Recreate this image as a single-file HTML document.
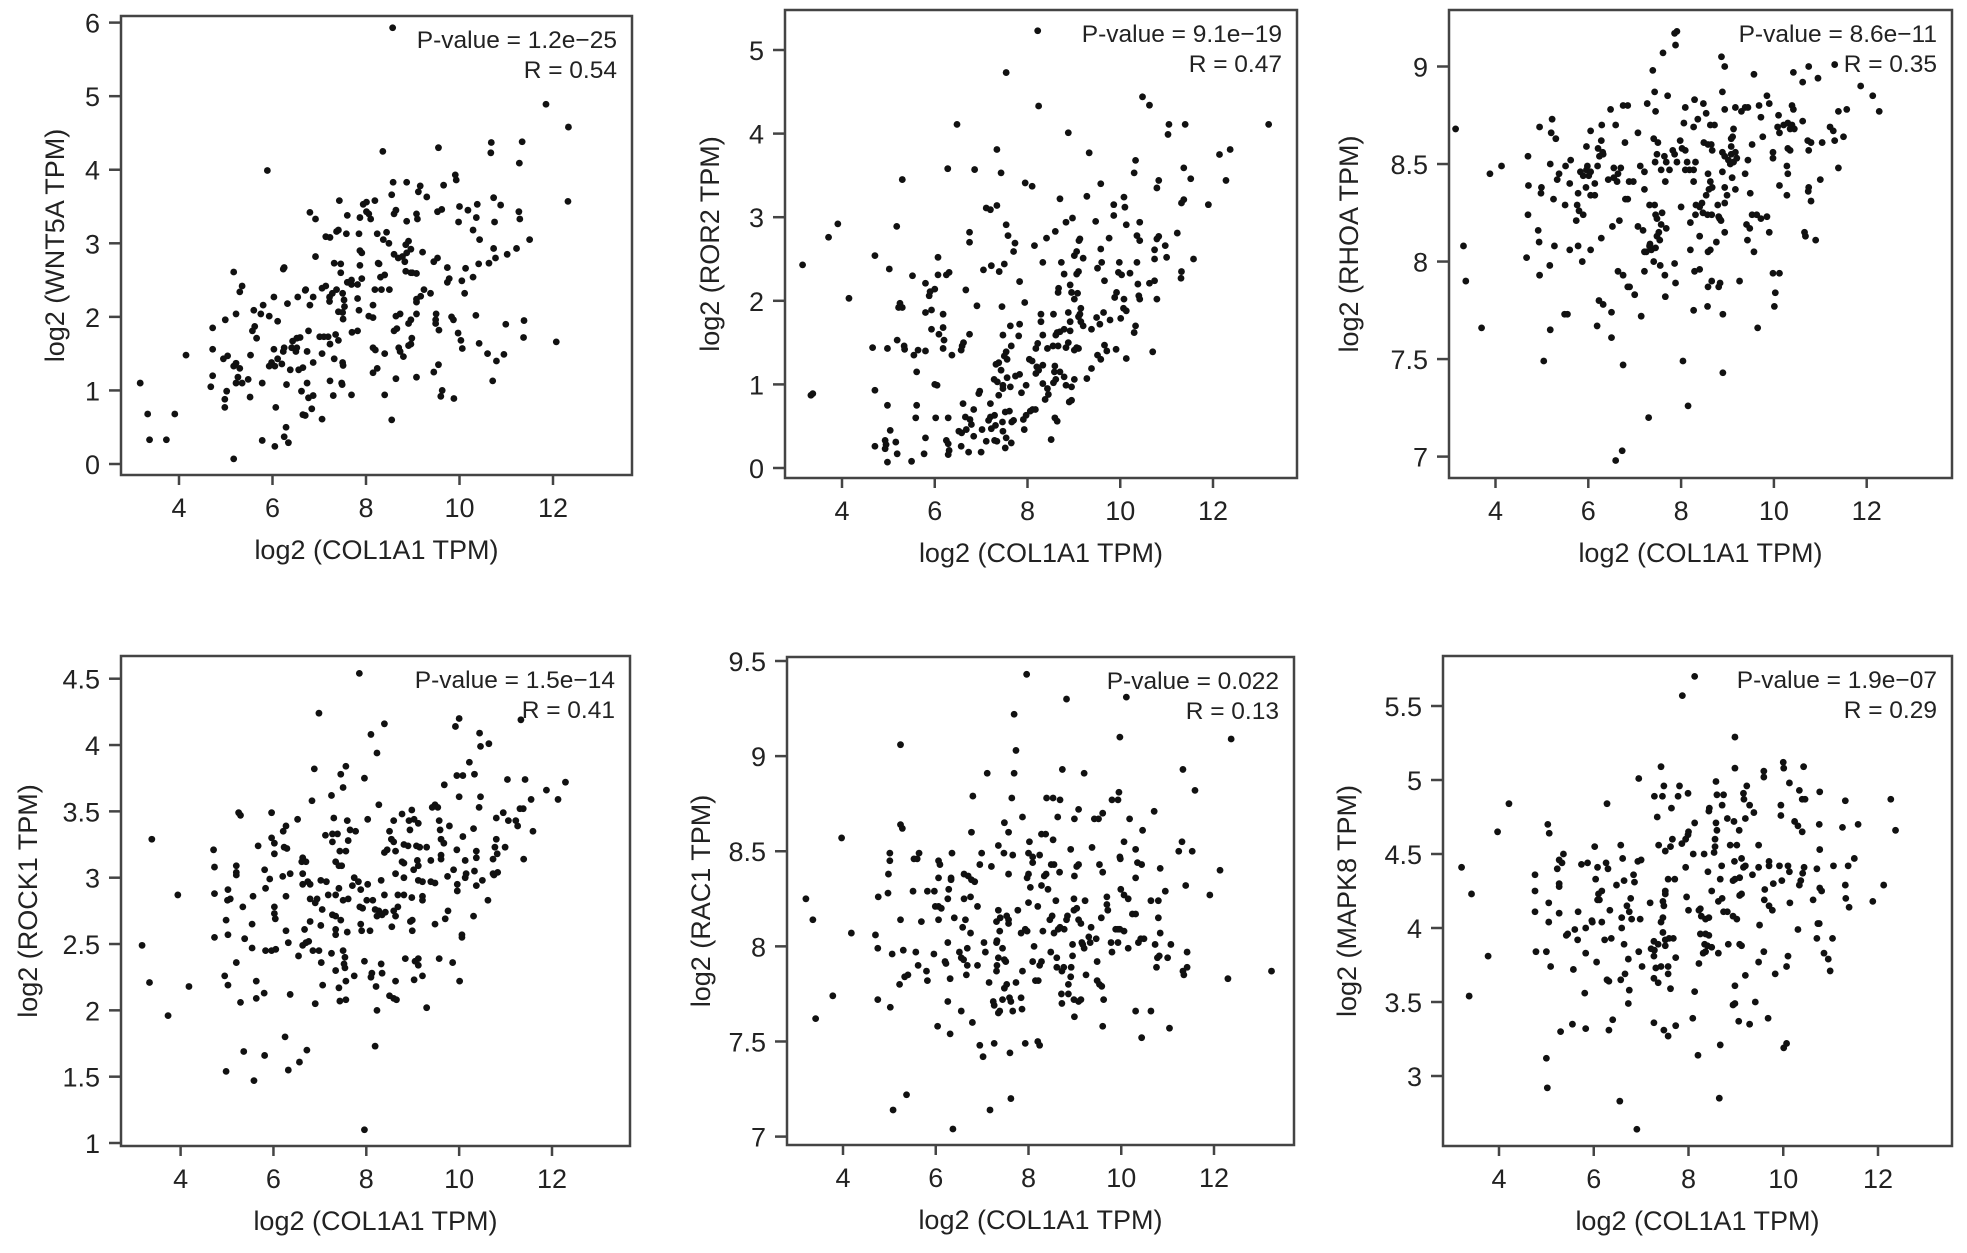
<!DOCTYPE html>
<html><head><meta charset="utf-8">
<style>
html,body{margin:0;padding:0;background:#fff;}
svg{display:block;}
text{font-family:"Liberation Sans",Arial,sans-serif;fill:#222;}
</style></head>
<body>
<svg id="fig" width="1967" height="1253" viewBox="0 0 1967 1253" xmlns="http://www.w3.org/2000/svg"></svg>
<script>
const xTickValues = [4, 6, 8, 10, 12];
const panelGenes = ["WNT5A", "ROR2", "RHOA", "ROCK1", "RAC1", "MAPK8"];
const panelPValues = ["1.2e\u221225", "9.1e\u221219", "8.6e\u221211", "1.5e\u221214", "0.022", "1.9e\u221207"];
const panelRValues = ["0.54", "0.47", "0.35", "0.41", "0.13", "0.29"];
const wnt5aTicks = [0,1,2,3,4,5,6];
const ror2Ticks = [0,1,2,3,4,5];
const rhoaTicks = [7,7.5,8,8.5,9];
const rock1Ticks = [1,1.5,2,2.5,3,3.5,4,4.5];
const rac1Ticks = [7,7.5,8,8.5,9,9.5];
const mapk8Ticks = [3,3.5,4,4.5,5,5.5];

const wnt5aPts = [[8.57,5.93],[11.85,4.89],[12.33,4.58],[12.32,3.57],[12.07,1.66],[5.89,3.99],[8.36,4.25],[9.55,4.30],[10.68,4.37],[10.67,4.23],[11.34,4.38],[11.28,4.09],[11.27,3.43],[11.29,3.33],[11.5,3.05],[11.22,2.93],[11.02,2.85],[11.38,1.95],[11.37,1.72],[10.99,1.90],[10.95,1.49],[10.79,1.40],[10.71,1.13],[10.6,1.5],[10.73,3.62],[10.88,3.52],[10.75,3.29],[10.73,2.93],[10.77,2.8],[10.63,2.73],[10.41,2.72],[10.43,3.05],[10.38,3.53],[10.36,3.35],[10.29,3.18],[10.18,3.45],[10.0,3.5],[9.98,3.29],[9.93,3.86],[9.91,3.93],[9.66,3.79],[10.13,2.66],[10.29,2.54],[10.11,2.32],[10.05,2.49],[10.35,2.02],[10.42,1.64],[10.06,1.57],[10.03,1.68],[9.97,1.78],[9.87,1.96],[9.83,2.0],[9.88,0.89],[9.63,1.0],[9.6,0.92],[9.55,1.35],[9.45,1.25],[9.56,1.82],[9.49,1.96],[9.5,2.04],[9.74,2.47],[9.74,2.67],[9.78,2.52],[9.53,2.8],[9.45,2.75],[9.53,3.43],[9.62,3.46],[9.38,2.32],[9.24,2.37],[9.08,2.24],[9.08,2.2],[9.17,2.28],[9.21,2.88],[9.08,3.40],[9.1,3.33],[9.3,3.63],[9.16,3.78],[9.12,3.70],[8.87,3.83],[8.87,3.3],[8.91,3.03],[8.85,2.98],[8.96,2.92],[8.87,2.87],[8.78,2.82],[8.83,2.75],[8.85,2.62],[8.96,2.6],[9.08,2.59],[8.99,2.6],[8.69,2.8],[8.6,2.85],[8.49,3.0],[8.44,3.15],[8.37,3.05],[8.6,3.4],[8.64,3.45],[8.58,3.83],[8.55,3.66],[8.1,3.33],[8.01,3.56],[8.19,3.58],[8.06,3.40],[8.24,3.13],[8.28,2.72],[8.26,2.73],[8.31,2.54],[8.4,2.57],[8.19,2.37],[8.33,2.37],[8.5,2.37],[8.15,2.16],[8.06,2.01],[8.15,1.99],[8.64,2.01],[8.6,1.81],[8.66,1.84],[8.7,1.58],[8.73,1.53],[8.8,1.46],[8.96,1.63],[8.91,1.61],[8.98,1.71],[8.96,1.96],[8.91,1.91],[9.08,2.04],[9.49,1.91],[8.73,2.04],[8.15,1.58],[8.2,1.55],[8.15,1.24],[8.24,1.30],[8.4,1.5],[8.64,1.16],[9.08,1.18],[8.4,0.94],[8.55,0.6],[7.69,0.94],[7.82,1.81],[7.7,1.79],[7.82,2.25],[7.82,2.44],[7.91,2.52],[7.87,2.7],[7.91,2.87],[7.87,2.9],[7.85,3.13],[7.87,3.35],[7.94,3.53],[8.01,3.43],[7.6,3.38],[7.58,3.13],[7.37,3.16],[7.41,3.18],[7.43,3.58],[7.23,3.08],[7.14,3.09],[6.92,3.33],[6.8,3.42],[6.92,2.82],[7.46,2.72],[7.46,2.6],[7.6,2.47],[7.69,2.44],[7.69,2.5],[7.37,2.37],[7.28,2.32],[7.5,2.32],[7.22,2.27],[7.22,2.21],[7.06,2.39],[7.14,2.42],[6.87,2.27],[6.71,2.37],[7.5,2.06],[7.41,2.07],[7.51,1.97],[7.54,2.14],[7.53,2.23],[7.35,1.76],[7.41,1.68],[7.23,1.63],[7.19,1.73],[7.01,1.73],[7.1,1.73],[6.77,1.81],[6.59,1.72],[6.52,1.71],[6.43,1.67],[6.41,1.58],[6.52,1.58],[6.5,1.53],[6.23,1.53],[6.25,1.58],[6.11,1.43],[6.2,1.36],[6.05,1.33],[5.98,1.38],[5.93,1.33],[6.03,1.56],[6.11,1.94],[6.25,2.67],[6.23,2.65],[6.32,2.18],[6.03,2.27],[5.93,2.01],[5.8,2.16],[5.75,2.04],[5.6,2.09],[5.62,1.87],[5.57,1.81],[5.66,1.71],[5.53,1.48],[7.06,1.5],[6.87,1.38],[6.74,1.53],[7.32,1.43],[7.5,1.38],[7.51,1.34],[7.23,1.13],[7.48,1.1],[7.49,1.08],[7.3,0.93],[6.87,0.93],[6.77,0.9],[6.62,0.99],[6.74,1.1],[6.56,1.28],[6.65,1.31],[6.38,1.28],[6.3,1.08],[5.78,1.1],[5.48,1.15],[5.35,1.1],[5.26,1.18],[5.22,1.1],[5.17,1.33],[5.3,1.3],[5.22,1.37],[5.04,1.47],[4.95,1.43],[4.72,1.2],[4.68,1.05],[4.72,1.56],[4.72,1.85],[4.99,1.96],[5.22,2.04],[5.17,2.61],[5.3,2.34],[5.35,2.42],[5.02,0.99],[4.98,0.88],[4.98,0.77],[5.52,0.91],[6.07,0.77],[6.84,0.75],[7.06,0.61],[6.65,0.67],[6.7,0.66],[5.78,0.32],[6.05,0.24],[6.25,0.37],[6.29,0.5],[6.34,0.29],[5.17,0.07],[4.15,1.48],[3.91,0.68],[3.73,0.33],[3.37,0.33],[3.33,0.68],[3.17,1.1],[6.7,2.36],[6.54,2.27],[6.8,2.16],[7.32,2.73],[7.85,2.09]];

const ror2Pts = [[8.22,5.23],[7.54,4.73],[8.24,4.33],[6.48,4.11],[8.88,4.01],[10.48,4.44],[10.63,4.34],[11.05,4.11],[11.03,3.99],[11.4,4.11],[13.2,4.11],[12.14,3.75],[12.37,3.81],[12.28,3.44],[11.9,3.15],[11.37,3.59],[11.52,3.46],[11.37,3.21],[11.32,3.17],[11.23,2.81],[11.58,2.5],[11.32,2.35],[11.31,2.27],[10.83,3.44],[10.79,3.35],[10.83,2.77],[10.79,2.74],[10.97,2.66],[10.74,2.61],[11.0,2.52],[10.74,2.5],[10.74,2.24],[10.63,2.21],[10.79,2.02],[10.7,1.39],[10.33,3.68],[10.3,3.53],[10.42,2.94],[10.36,2.78],[10.42,2.72],[10.36,2.46],[10.38,2.2],[10.42,2.02],[10.4,2.06],[10.33,1.7],[10.3,1.62],[10.08,3.24],[10.1,3.12],[9.86,3.15],[9.86,3.02],[10.13,2.91],[9.58,3.4],[9.33,3.77],[9.28,3.25],[9.47,2.95],[9.76,2.75],[9.58,2.62],[9.6,2.46],[9.51,2.39],[9.98,2.46],[9.96,2.34],[10.03,2.31],[10.21,2.33],[9.66,2.24],[9.92,2.1],[9.88,2.04],[10.08,2.02],[10.07,1.91],[10.13,1.88],[10.01,1.79],[9.78,1.77],[9.64,1.86],[9.49,1.8],[9.56,1.72],[9.66,1.47],[9.71,1.4],[9.91,1.42],[10.13,1.31],[9.51,1.35],[9.58,1.3],[9.38,1.19],[9.28,1.07],[9.01,1.06],[8.95,0.97],[8.95,0.81],[8.9,0.79],[8.83,0.99],[8.79,1.09],[8.7,1.15],[8.83,1.44],[9.06,1.44],[9.1,1.43],[9.01,1.41],[8.88,1.5],[9.38,1.66],[9.2,1.7],[9.15,1.75],[9.13,1.84],[9.15,1.91],[9.1,1.81],[8.92,1.75],[8.88,1.86],[8.92,1.64],[8.79,1.66],[8.7,1.63],[8.61,1.59],[8.64,1.62],[8.55,1.46],[8.66,1.46],[8.59,1.22],[8.58,1.15],[8.61,1.06],[8.56,1.02],[8.43,0.95],[8.33,1.01],[8.45,0.88],[8.38,0.82],[8.59,0.6],[8.64,0.56],[8.51,0.34],[8.95,2.1],[9.01,2.02],[9.08,2.09],[8.92,2.19],[9.06,2.32],[9.1,2.35],[8.79,2.32],[8.73,2.46],[9.01,2.54],[9.06,2.59],[9.2,2.51],[9.13,2.74],[9.11,2.72],[8.67,2.15],[8.66,2.1],[8.33,2.46],[8.41,2.75],[8.6,2.83],[8.83,2.94],[8.97,2.99],[8.7,3.22],[8.1,3.37],[7.95,3.41],[8.15,2.66],[8.29,1.84],[8.29,1.75],[8.56,1.84],[8.33,1.59],[8.22,1.49],[8.18,1.43],[8.43,1.43],[8.2,1.21],[8.04,1.3],[8.1,1.28],[8.24,1.17],[8.33,1.23],[8.18,1.13],[8.11,0.7],[8.17,0.7],[8.06,0.68],[7.97,0.63],[7.91,0.58],[7.93,0.46],[7.87,0.9],[7.97,0.99],[7.83,1.12],[7.74,1.1],[7.94,1.98],[7.83,2.23],[7.83,1.72],[7.81,1.58],[7.63,1.7],[7.47,1.59],[7.65,1.46],[7.54,1.39],[7.5,1.34],[7.56,1.3],[7.38,1.26],[7.32,1.24],[7.43,1.17],[7.47,0.99],[7.56,1.08],[7.63,0.97],[7.47,0.95],[7.35,1.03],[7.28,1.06],[7.38,0.87],[7.2,0.77],[6.97,0.92],[6.95,0.89],[7.2,0.61],[7.29,0.63],[7.16,0.57],[7.52,0.67],[7.61,0.68],[7.7,0.57],[7.66,0.55],[7.46,0.55],[7.31,0.51],[7.22,0.47],[7.11,0.32],[7.29,0.33],[7.47,0.44],[7.54,0.36],[7.65,0.3],[7.52,0.24],[7.34,0.32],[7.02,0.46],[6.84,0.38],[6.79,0.52],[6.76,0.58],[6.66,0.61],[6.61,0.77],[6.84,0.7],[6.68,0.46],[6.58,0.42],[6.52,0.44],[6.57,0.26],[6.73,0.19],[7.0,0.19],[6.29,0.6],[6.25,0.33],[6.29,0.29],[6.31,0.21],[6.29,0.16],[6.02,0.6],[5.8,0.36],[5.77,0.17],[5.5,0.08],[5.59,0.6],[5.61,0.75],[5.61,1.15],[5.55,1.35],[5.64,1.41],[5.8,1.4],[6.05,0.99],[6.0,1.0],[6.18,1.43],[6.2,1.53],[6.09,1.6],[5.93,1.66],[6.18,1.68],[6.37,1.35],[6.57,1.41],[6.59,1.46],[6.62,1.5],[6.75,1.6],[6.18,1.84],[5.8,1.86],[5.93,1.89],[5.88,2.06],[5.9,2.11],[6.0,2.14],[5.8,2.21],[6.07,2.31],[6.25,2.31],[6.31,2.34],[6.07,2.52],[5.52,2.3],[5.25,1.97],[5.22,1.92],[5.3,1.92],[5.19,1.53],[5.34,1.46],[5.35,1.42],[4.98,1.43],[4.66,1.44],[4.71,0.93],[4.98,0.75],[5.04,0.45],[4.93,0.33],[4.95,0.28],[4.93,0.23],[4.71,0.26],[5.16,0.31],[5.19,0.17],[4.98,0.07],[5.02,2.38],[4.71,2.54],[5.18,2.89],[5.3,3.45],[6.28,3.58],[6.86,3.57],[6.75,2.82],[6.75,2.7],[6.67,2.13],[6.91,1.94],[7.05,2.37],[7.22,2.42],[7.11,3.11],[7.2,3.09],[7.34,3.14],[7.34,3.81],[7.43,3.53],[7.54,2.91],[7.58,2.78],[7.73,2.69],[7.7,2.59],[7.5,2.44],[7.39,2.35],[7.45,1.93],[3.71,2.76],[3.91,2.92],[4.15,2.03],[3.15,2.43],[3.33,0.87],[3.37,0.89]];

const rhoaPts = [[7.91,9.18],[7.86,9.17],[7.88,9.11],[7.61,9.07],[7.39,8.98],[7.43,8.87],[7.45,8.77],[7.71,8.85],[7.27,8.81],[6.85,8.80],[6.75,8.80],[6.48,8.78],[6.59,8.70],[6.29,8.70],[6.05,8.67],[6.28,8.62],[5.96,8.59],[6.21,8.58],[6.31,8.56],[6.24,8.54],[6.32,8.55],[6.2,8.49],[5.98,8.49],[5.96,8.47],[6.05,8.46],[6.01,8.44],[5.89,8.44],[5.83,8.46],[5.62,8.52],[5.51,8.49],[5.37,8.45],[5.33,8.42],[5.6,8.4],[5.18,8.5],[4.95,8.69],[5.22,8.73],[5.2,8.66],[5.3,8.63],[4.7,8.54],[4.71,8.39],[4.99,8.38],[4.98,8.35],[5.25,8.32],[5.5,8.29],[5.78,8.35],[5.76,8.29],[5.8,8.26],[5.89,8.24],[5.74,8.21],[6.05,8.34],[6.14,8.34],[5.95,8.38],[6.14,8.4],[6.43,8.42],[6.55,8.43],[6.7,8.48],[6.55,8.48],[6.64,8.45],[6.62,8.41],[6.88,8.41],[6.97,8.41],[6.8,8.32],[6.79,8.61],[7.07,8.66],[7.12,8.49],[7.21,8.46],[7.21,8.37],[7.41,8.63],[7.5,8.61],[7.48,8.55],[7.44,8.51],[7.57,8.47],[7.64,8.54],[7.68,8.51],[7.66,8.41],[7.75,8.47],[7.82,8.57],[7.86,8.55],[7.91,8.51],[7.98,8.62],[8.02,8.58],[8.09,8.57],[8.13,8.51],[8.18,8.47],[8.09,8.47],[8.27,8.47],[8.27,8.41],[8.31,8.51],[8.09,8.79],[8.06,8.71],[8.27,8.69],[8.29,8.83],[8.36,8.73],[8.48,8.81],[8.54,8.76],[8.63,8.7],[8.72,8.7],[8.49,8.61],[8.58,8.6],[8.65,8.6],[8.58,8.45],[8.63,8.41],[8.67,8.38],[8.6,8.37],[8.54,8.34],[8.45,8.3],[8.4,8.28],[8.47,8.25],[8.31,8.24],[8.32,8.29],[8.57,8.24],[8.66,8.24],[8.79,8.29],[8.81,8.23],[8.86,8.21],[8.67,8.57],[8.89,8.56],[8.94,8.54],[9.02,8.52],[9.08,8.55],[9.13,8.51],[9.06,8.5],[9.17,8.56],[9.2,8.53],[9.08,8.63],[9.08,8.59],[9.11,8.64],[9.13,8.68],[8.89,8.46],[8.94,8.38],[9.1,8.43],[8.99,8.34],[9.17,8.37],[9.38,8.45],[9.44,8.52],[9.53,8.6],[9.49,8.35],[9.41,8.19],[9.48,8.17],[9.53,8.24],[9.63,8.24],[9.72,8.22],[9.85,8.23],[9.9,8.15],[9.43,8.11],[9.57,8.05],[8.94,8.15],[8.76,8.1],[8.63,8.06],[8.94,8.3],[8.83,8.22],[8.89,8.87],[8.87,9.05],[8.94,9.0],[9.3,8.77],[9.38,8.79],[9.44,8.79],[9.17,8.79],[8.94,8.78],[9.57,8.96],[9.68,8.8],[9.72,8.74],[9.85,8.85],[9.9,8.81],[9.76,8.64],[9.98,8.56],[9.98,8.53],[10.1,8.75],[10.08,8.69],[10.12,8.66],[10.21,8.7],[10.3,8.71],[10.35,8.68],[10.39,8.8],[10.42,8.78],[10.39,8.7],[10.44,8.68],[10.3,8.58],[10.35,8.57],[10.28,8.49],[10.3,8.45],[10.12,8.39],[10.28,8.34],[10.42,8.97],[10.62,8.92],[10.75,9.0],[10.95,8.94],[10.62,8.72],[10.73,8.62],[10.8,8.61],[10.75,8.57],[11.04,8.61],[11.0,8.42],[10.75,8.38],[10.74,8.36],[10.8,8.31],[10.66,8.15],[10.68,8.13],[10.9,8.11],[9.98,7.94],[10.12,7.94],[10.03,7.84],[10.01,7.77],[9.65,7.66],[9.26,7.9],[11.31,9.01],[11.87,8.9],[12.13,8.85],[12.27,8.77],[11.57,8.78],[11.39,8.77],[11.21,8.69],[11.28,8.67],[11.31,8.62],[11.5,8.64],[11.39,8.48],[8.58,8.05],[8.66,7.9],[8.58,7.87],[8.84,7.89],[8.81,7.87],[8.57,7.77],[8.9,7.73],[8.4,7.96],[8.29,7.95],[8.2,8.06],[8.2,8.2],[8.0,8.28],[8.4,8.13],[8.27,7.75],[7.88,7.89],[7.86,7.99],[7.65,7.93],[7.55,7.98],[7.66,7.82],[7.41,8.0],[7.36,8.06],[7.32,8.08],[7.25,8.05],[7.21,8.05],[7.33,8.09],[7.45,8.07],[7.48,8.13],[7.54,8.11],[7.52,8.15],[7.57,8.19],[7.48,8.22],[7.45,8.24],[7.59,8.25],[7.68,8.17],[7.43,8.29],[7.32,8.29],[7.18,8.16],[7.07,8.18],[7.21,7.95],[6.85,7.87],[6.89,7.87],[7.0,7.83],[7.14,7.72],[6.75,7.93],[6.64,7.95],[6.67,8.21],[6.85,8.32],[6.52,8.18],[6.28,8.12],[6.23,7.8],[6.32,7.78],[6.5,7.74],[6.19,7.67],[6.5,7.61],[6.75,7.47],[6.59,6.98],[6.73,7.03],[7.3,7.2],[8.15,7.26],[8.04,7.49],[8.9,7.43],[6.05,8.06],[5.87,8.0],[5.6,8.06],[5.78,8.08],[5.27,8.08],[5.17,7.98],[4.95,7.93],[4.67,8.02],[4.94,8.1],[4.92,8.16],[4.7,8.24],[5.18,7.65],[5.49,7.73],[5.55,7.73],[5.04,7.49],[3.7,7.66],[3.36,7.9],[3.31,8.08],[3.14,8.68],[3.88,8.45],[4.13,8.49]];

const rock1Pts = [[7.85,4.54],[6.98,4.24],[8.39,4.16],[8.1,4.08],[8.23,3.94],[6.88,3.82],[7.56,3.84],[7.45,3.78],[7.5,3.68],[7.25,3.62],[6.83,3.58],[7.96,3.75],[8.27,3.55],[8.03,3.44],[10.0,4.2],[9.92,4.14],[10.44,4.09],[10.46,3.99],[10.64,4.01],[11.33,4.19],[10.22,3.87],[9.95,3.77],[10.08,3.77],[10.33,3.78],[9.68,3.7],[10.0,3.61],[10.46,3.61],[10.43,3.53],[11.04,3.74],[11.42,3.74],[11.88,3.66],[12.29,3.72],[12.13,3.59],[11.55,3.59],[11.31,3.52],[11.38,3.52],[11.22,3.43],[11.06,3.43],[10.95,3.49],[10.8,3.45],[11.26,3.39],[11.59,3.35],[11.39,3.14],[10.99,3.23],[10.8,3.29],[10.77,3.23],[10.82,3.18],[10.73,3.14],[10.83,3.04],[10.75,3.02],[10.73,3.03],[10.62,2.83],[10.5,2.98],[10.37,3.2],[10.37,3.15],[10.37,2.94],[10.33,3.05],[10.31,2.71],[10.31,3.37],[10.13,3.13],[10.15,3.03],[10.13,3.0],[10.06,2.57],[10.06,2.55],[10.01,2.22],[10.08,3.31],[9.95,3.21],[9.96,2.95],[9.96,2.9],[9.88,3.06],[9.75,3.01],[9.76,2.75],[9.7,2.69],[9.86,2.36],[9.57,2.39],[9.48,2.65],[9.79,3.39],[9.57,3.43],[9.59,3.36],[9.61,3.29],[9.67,3.26],[9.61,3.17],[9.61,3.14],[9.48,3.55],[9.54,3.53],[9.42,3.53],[9.39,3.13],[9.39,2.97],[9.48,2.96],[9.3,3.23],[9.21,2.97],[9.12,2.98],[9.1,3.13],[9.12,3.09],[9.15,3.23],[9.08,3.24],[8.9,3.24],[8.81,3.25],[8.94,3.36],[8.92,3.43],[8.98,3.51],[9.03,3.44],[9.12,3.41],[8.77,3.48],[8.59,3.43],[8.5,3.35],[8.54,3.29],[8.59,3.27],[8.45,3.21],[8.39,3.19],[8.63,3.2],[8.77,3.12],[8.81,3.11],[8.63,3.03],[8.81,3.0],[8.68,2.87],[8.81,2.87],[8.98,2.85],[9.21,2.86],[9.21,2.83],[9.02,3.06],[8.59,2.75],[8.68,2.78],[8.63,2.71],[8.41,2.74],[8.27,2.75],[8.34,2.72],[8.23,2.71],[8.19,2.76],[8.39,2.87],[8.32,2.98],[8.14,2.83],[8.01,2.83],[7.88,2.91],[7.74,3.0],[7.83,2.97],[8.03,2.95],[7.7,2.94],[7.61,2.84],[7.5,2.83],[7.86,2.78],[7.92,2.77],[7.88,2.65],[7.9,2.6],[8.08,2.6],[8.55,2.63],[8.95,2.67],[8.99,2.68],[8.99,2.6],[8.84,2.39],[9.12,2.39],[9.05,2.37],[9.12,2.34],[9.03,2.23],[9.21,2.26],[9.3,2.02],[8.63,2.22],[8.59,2.09],[8.5,2.11],[8.65,2.08],[8.32,2.35],[8.34,2.28],[8.12,2.28],[8.1,2.25],[8.21,2.18],[8.23,2.0],[7.96,2.37],[8.19,1.73],[7.96,1.1],[7.74,2.26],[7.56,2.22],[7.41,2.17],[7.43,2.07],[7.56,2.08],[7.34,2.3],[7.25,2.43],[7.34,2.57],[7.59,2.59],[7.5,2.45],[7.54,2.4],[7.52,2.35],[7.54,2.32],[7.45,2.68],[7.34,2.61],[7.27,2.72],[7.34,2.71],[7.05,2.76],[7.02,2.98],[7.14,2.97],[7.18,2.87],[7.34,2.87],[7.41,2.92],[7.27,3.33],[7.38,3.33],[7.12,3.32],[7.27,3.27],[7.43,3.2],[7.34,3.12],[7.41,3.09],[7.47,3.09],[7.3,3.45],[7.59,3.43],[7.65,3.36],[7.77,3.35],[7.61,3.28],[7.56,3.2],[6.94,2.84],[6.9,2.81],[6.79,2.84],[7.02,2.64],[6.98,2.45],[6.85,2.45],[6.63,2.49],[6.7,2.51],[6.54,2.41],[6.76,2.52],[6.79,2.67],[6.67,2.61],[7.03,2.36],[7.06,2.19],[6.9,2.05],[6.36,2.12],[6.32,2.51],[6.27,2.6],[6.05,2.46],[5.96,2.45],[5.83,2.45],[5.54,2.47],[5.54,2.65],[5.38,2.54],[5.2,2.36],[5.34,2.78],[5.56,2.86],[5.83,2.92],[5.81,3.06],[5.92,2.99],[5.67,3.24],[5.96,3.49],[5.96,3.3],[6.02,3.26],[6.02,3.18],[6.2,3.01],[6.02,2.78],[6.02,2.73],[6.04,2.69],[6.27,2.86],[6.36,3.03],[6.23,3.23],[6.29,3.22],[6.27,3.39],[6.21,3.35],[6.52,3.44],[6.63,3.15],[6.61,3.12],[6.7,3.12],[6.63,3.03],[6.63,2.95],[6.74,2.97],[6.79,2.95],[5.29,3.47],[5.25,3.49],[5.2,3.09],[5.2,3.04],[5.2,3.02],[5.02,2.91],[5.07,2.84],[5.01,2.83],[4.98,2.68],[5.02,2.57],[4.71,3.21],[4.73,3.08],[4.73,2.88],[4.73,2.55],[4.95,2.26],[5.02,2.19],[5.29,2.06],[5.63,2.09],[5.63,2.22],[5.8,2.13],[4.98,1.54],[5.36,1.69],[5.81,1.66],[5.58,1.47],[6.25,1.8],[6.32,1.55],[6.56,1.61],[6.72,1.7],[3.17,2.49],[3.33,2.21],[3.38,3.29],[3.94,2.87],[4.18,2.18],[3.73,1.96]];

const rac1Pts = [[7.96,9.43],[8.82,9.3],[10.11,9.31],[7.69,9.22],[9.97,9.1],[12.37,9.09],[5.24,9.06],[7.73,9.03],[7.11,8.91],[9.2,8.91],[7.69,8.91],[8.73,8.93],[11.33,8.93],[11.59,8.82],[6.8,8.79],[7.64,8.78],[8.39,8.78],[8.53,8.78],[8.68,8.77],[9.8,8.77],[9.95,8.81],[9.93,8.77],[7.87,8.68],[8.63,8.68],[9.08,8.72],[8.99,8.67],[9.42,8.67],[9.51,8.67],[9.6,8.7],[10.18,8.67],[10.71,8.71],[10.46,8.61],[7.48,8.65],[7.57,8.6],[6.77,8.6],[5.24,8.64],[5.28,8.62],[8.28,8.59],[8.37,8.59],[8.53,8.56],[8.02,8.55],[10.06,8.55],[11.31,8.55],[7.35,8.53],[9.37,8.52],[8.91,8.51],[10.31,8.51],[11.24,8.5],[11.53,8.5],[7.66,8.48],[8.0,8.49],[8.09,8.47],[8.24,8.48],[7.47,8.49],[6.99,8.49],[6.35,8.49],[5.64,8.49],[5.01,8.49],[5.01,8.45],[5.6,8.46],[5.53,8.46],[6.06,8.45],[6.09,8.43],[9.97,8.47],[9.98,8.46],[10.35,8.44],[10.44,8.43],[8.49,8.43],[8.55,8.43],[8.67,8.39],[8.38,8.38],[8.34,8.37],[8.0,8.38],[7.97,8.36],[7.57,8.38],[7.2,8.42],[6.95,8.43],[6.61,8.38],[6.7,8.37],[6.77,8.35],[6.84,8.34],[6.33,8.36],[6.33,8.35],[6.06,8.36],[8.99,8.37],[9.04,8.42],[9.08,8.43],[9.53,8.43],[9.6,8.39],[10.31,8.36],[10.84,8.41],[4.98,8.38],[3.97,8.57],[3.2,8.25],[3.35,8.14],[4.18,8.07],[4.7,8.06],[4.75,7.99],[4.75,7.72],[4.76,8.26],[4.97,8.28],[5.06,7.96],[5.02,7.68],[5.24,8.14],[5.3,7.98],[5.22,7.8],[5.33,7.84],[5.4,7.85],[5.51,8.29],[5.57,7.97],[5.62,7.9],[5.69,8.13],[5.8,7.87],[5.82,7.82],[5.82,8.29],[5.97,8.29],[5.99,8.21],[6.06,8.21],[6.12,8.2],[5.96,7.96],[6.06,8.14],[6.04,7.58],[6.2,7.92],[6.22,7.91],[6.26,8.02],[6.28,8.3],[6.26,8.25],[6.31,7.83],[6.26,7.71],[6.31,7.54],[6.4,8.15],[6.51,7.97],[6.55,7.94],[6.58,8.1],[6.6,7.93],[6.64,8.14],[6.55,7.66],[6.61,8.25],[6.68,7.9],[6.66,7.85],[6.68,7.99],[6.75,8.26],[6.75,8.07],[6.79,7.6],[6.9,8.21],[6.9,7.9],[6.95,7.48],[7.02,7.42],[7.04,8.02],[7.07,7.97],[7.15,7.81],[7.17,7.14],[7.26,7.49],[7.24,7.71],[7.26,7.69],[7.31,7.87],[7.32,7.9],[7.31,8.02],[7.32,8.03],[7.35,7.94],[7.31,8.13],[7.35,8.19],[7.39,8.15],[7.38,8.08],[7.44,7.99],[7.48,7.93],[7.51,7.92],[7.53,8.16],[7.57,8.14],[7.57,8.12],[7.38,7.66],[7.35,7.65],[7.44,7.72],[7.48,7.78],[7.53,7.8],[7.59,7.73],[7.62,7.71],[7.66,7.66],[7.62,7.2],[7.6,7.44],[7.73,7.81],[7.77,8.19],[7.84,8.07],[7.87,7.87],[7.84,7.73],[7.86,7.67],[7.93,8.09],[7.97,8.08],[7.93,7.49],[8.0,8.23],[8.04,8.31],[8.09,8.44],[8.09,7.92],[8.12,8.0],[8.15,7.82],[8.21,7.82],[8.24,7.9],[8.28,7.92],[8.2,7.5],[8.24,7.48],[8.2,8.21],[8.28,8.32],[8.31,8.08],[8.42,8.3],[8.46,8.14],[8.48,7.97],[8.51,8.16],[8.55,8.07],[8.59,8.24],[8.61,7.94],[8.61,7.89],[8.64,8.09],[8.68,8.1],[8.71,7.75],[8.72,7.7],[8.72,7.87],[8.76,7.89],[8.77,8.09],[8.82,8.14],[8.84,8.16],[8.86,7.8],[8.86,7.75],[8.91,7.84],[8.92,7.89],[8.95,7.95],[8.95,8.01],[8.98,8.19],[8.98,8.25],[8.98,7.72],[8.99,7.63],[9.04,8.2],[9.08,8.14],[9.08,7.71],[9.13,7.72],[9.13,8.12],[9.15,8.02],[9.17,8.01],[9.2,7.99],[9.22,8.24],[9.24,7.85],[9.3,8.05],[9.33,8.02],[9.35,8.1],[9.46,8.04],[9.48,7.92],[9.48,7.82],[9.53,7.8],[9.57,8.15],[9.58,7.79],[9.62,7.72],[9.6,7.58],[9.69,8.26],[9.69,8.22],[9.71,8.19],[9.78,8.02],[9.8,7.97],[9.88,8.09],[9.93,8.09],[9.97,8.09],[10.06,8.08],[9.93,8.02],[9.99,8.3],[10.06,8.27],[10.15,8.25],[10.15,7.99],[10.24,8.17],[10.31,8.17],[10.31,7.66],[10.37,8.02],[10.42,8.04],[10.49,8.04],[10.44,7.52],[10.64,7.66],[10.64,8.24],[10.73,8.01],[10.76,7.89],[10.78,7.94],[10.8,8.15],[10.8,8.24],[10.84,8.07],[10.82,7.95],[10.95,8.29],[11.0,7.94],[11.04,7.57],[11.07,8.01],[11.33,7.87],[11.35,7.85],[11.39,8.32],[11.42,7.97],[11.42,7.89],[11.91,8.27],[12.13,8.4],[12.3,7.83],[13.24,7.87],[3.78,7.74],[3.41,7.62],[5.08,7.14],[5.37,7.22],[6.37,7.04]];

const mapk8Pts = [[8.13,5.7],[7.87,5.57],[8.98,5.29],[10.0,5.12],[10.01,5.08],[10.43,5.09],[8.98,5.08],[9.59,5.06],[9.59,5.02],[7.42,5.09],[6.95,5.01],[8.58,4.99],[10.13,4.98],[10.34,4.93],[10.77,4.92],[11.31,4.86],[12.27,4.87],[12.37,4.66],[11.58,4.7],[11.25,4.68],[10.76,4.7],[10.31,4.69],[10.4,4.65],[10.24,4.72],[9.95,4.83],[9.95,4.76],[10.4,4.87],[10.46,4.87],[9.23,4.96],[9.16,4.91],[9.17,4.87],[9.29,4.83],[9.38,4.78],[9.2,4.74],[8.74,4.9],[8.6,4.9],[8.44,4.81],[8.43,4.79],[8.71,4.83],[8.82,4.74],[8.96,4.72],[8.58,4.71],[8.6,4.66],[8.56,4.6],[9.07,4.66],[9.02,4.56],[8.88,4.56],[8.56,4.55],[8.54,4.51],[8.97,4.45],[9.12,4.47],[9.16,4.41],[9.2,4.42],[9.48,4.56],[9.48,4.41],[9.7,4.45],[9.7,4.42],[9.92,4.42],[10.1,4.42],[10.13,4.38],[10.44,4.41],[10.41,4.37],[10.37,4.32],[10.34,4.29],[10.71,4.4],[10.77,4.53],[10.77,4.27],[10.81,4.25],[10.63,4.19],[11.06,4.42],[11.37,4.42],[11.5,4.47],[11.31,4.29],[11.32,4.2],[11.39,4.14],[11.89,4.18],[12.12,4.29],[9.97,4.32],[9.79,4.3],[9.61,4.26],[9.6,4.19],[9.7,4.15],[9.77,4.12],[10.14,4.17],[9.35,4.36],[9.08,4.34],[9.12,4.23],[9.08,4.22],[8.98,4.33],[8.94,4.32],[8.94,4.08],[9.02,4.06],[8.82,4.11],[8.74,4.11],[8.67,4.33],[8.71,4.2],[8.63,4.18],[8.49,4.25],[8.7,4.42],[8.41,4.38],[8.33,4.5],[8.1,4.5],[7.94,4.6],[7.94,4.41],[8.13,4.71],[8.0,4.65],[7.99,4.63],[7.86,4.57],[7.99,4.91],[7.81,4.96],[7.78,4.89],[7.48,4.96],[7.45,4.89],[7.28,4.89],[7.34,4.75],[7.64,4.81],[7.66,4.6],[7.62,4.55],[7.51,4.52],[7.37,4.56],[7.71,4.33],[7.57,4.33],[7.96,4.21],[8.0,4.12],[8.25,4.13],[8.22,4.12],[8.27,4.08],[8.36,4.06],[8.43,4.07],[8.25,3.96],[8.36,3.96],[8.43,3.95],[8.34,3.89],[8.4,3.88],[8.49,3.87],[8.36,3.84],[8.31,3.83],[8.22,3.76],[8.63,3.83],[8.84,3.89],[9.08,3.89],[9.12,3.88],[9.2,3.68],[9.48,3.77],[9.59,3.84],[9.5,4.02],[9.83,3.69],[10.31,3.99],[10.1,3.81],[10.07,3.74],[10.73,4.03],[10.76,4.03],[10.71,3.93],[10.86,3.83],[10.95,3.79],[10.99,3.71],[11.04,3.93],[10.01,3.19],[10.07,3.22],[9.68,3.39],[9.41,3.5],[9.29,3.35],[9.06,3.37],[8.98,3.61],[8.98,3.49],[8.94,3.48],[8.67,3.21],[8.65,2.85],[8.13,3.57],[8.09,3.39],[8.2,3.14],[7.73,3.34],[7.57,3.27],[7.48,3.31],[7.27,3.36],[7.62,3.59],[7.57,3.69],[7.57,3.74],[7.68,3.93],[7.73,3.8],[7.59,3.93],[7.51,3.88],[7.51,3.92],[7.46,3.97],[7.42,4.04],[7.46,4.07],[7.48,4.15],[7.46,4.18],[7.51,4.23],[7.51,4.25],[7.36,3.89],[7.28,3.85],[7.21,3.86],[7.27,3.81],[7.31,3.73],[7.36,3.63],[7.27,3.66],[7.42,3.74],[7.19,4.17],[7.27,3.91],[7.02,3.74],[6.98,4.06],[6.95,3.84],[6.93,4.45],[7.0,4.46],[6.84,4.36],[6.86,4.31],[6.78,4.2],[6.75,4.11],[6.8,4.06],[6.73,3.79],[6.75,3.58],[6.73,3.49],[6.66,3.69],[6.64,4.32],[6.61,4.47],[6.57,4.56],[6.7,4.15],[6.59,4.07],[6.59,4.0],[6.64,3.89],[6.57,3.65],[6.55,2.83],[6.91,2.64],[6.48,4.29],[6.34,4.12],[6.37,3.93],[6.32,3.64],[6.28,3.65],[6.26,4.44],[6.3,4.4],[6.28,4.84],[6.32,3.31],[6.4,3.38],[6.23,3.92],[6.17,4.04],[6.12,4.19],[6.17,4.25],[6.1,4.23],[6.08,4.19],[6.04,4.33],[6.08,4.41],[6.02,4.55],[5.97,4.04],[5.96,4.05],[5.83,4.0],[5.83,3.83],[6.06,3.77],[5.81,3.56],[5.83,3.32],[5.87,4.44],[5.74,4.43],[5.67,4.11],[5.6,3.99],[5.66,3.92],[5.45,3.96],[5.27,4.1],[5.27,4.28],[5.27,4.3],[5.23,4.4],[5.36,4.5],[5.33,4.44],[5.27,4.46],[5.42,3.95],[5.57,3.72],[5.3,3.3],[5.55,3.35],[5.05,4.17],[5.05,4.04],[5.09,3.74],[5.03,4.7],[5.06,4.64],[5.0,3.84],[4.76,4.11],[4.76,4.25],[4.76,4.36],[4.78,3.84],[5.0,3.12],[5.02,2.92],[3.21,4.41],[3.42,4.23],[3.37,3.54],[3.77,3.81],[3.97,4.65],[4.21,4.84]];

// layout (pixel geometry, not data)
const panels = [
  {pts: wnt5aPts, ticks: wnt5aTicks, box:[121,16,632,475], x4:179, x12:553, ya:0, yaPx:464, yb:6, ybPx:22.6, ytOff:66},
  {pts: ror2Pts, ticks: ror2Ticks, box:[785,10,1297,478], x4:842, x12:1213, ya:0, yaPx:468, yb:5, ybPx:50, ytOff:75},
  {pts: rhoaPts, ticks: rhoaTicks, box:[1449,10,1952,478], x4:1495.5, x12:1866.7, ya:7, yaPx:456.6, yb:9, ybPx:66.5, ytOff:100},
  {pts: rock1Pts, ticks: rock1Ticks, box:[121,656,630,1146], x4:180.6, x12:552, ya:1, yaPx:1143, yb:4.5, ybPx:678.7, ytOff:93},
  {pts: rac1Pts, ticks: rac1Ticks, box:[787,657,1294,1145], x4:843, x12:1214, ya:7, yaPx:1136.6, yb:9.5, ybPx:661, ytOff:86},
  {pts: mapk8Pts, ticks: mapk8Ticks, box:[1443,656,1952,1146], x4:1499, x12:1878, ya:3, yaPx:1076, yb:5.5, ybPx:706, ytOff:96}
];

const NS = "http://www.w3.org/2000/svg";
const svg = document.getElementById("fig");
function mk(tag, attrs, parent) {
  const e = document.createElementNS(NS, tag);
  for (const k in attrs) e.setAttribute(k, attrs[k]);
  parent.appendChild(e);
  return e;
}

panels.forEach((p, i) => {
  const gene = panelGenes[i];
  const xScale = v => p.x4 + (v - 4) * (p.x12 - p.x4) / 8;
  const yScale = v => p.yaPx + (v - p.ya) * (p.ybPx - p.yaPx) / (p.yb - p.ya);
  const [L, T, R, B] = p.box;

  const g = mk("g", {}, svg);
  
  

  const frame = mk("rect", {x:L, y:T, width:R-L, height:B-T, fill:"none", stroke:"#444", "stroke-width":2.5}, g);
  
  

  const xg = mk("g", {}, g);
  
  
  xTickValues.forEach(v => {
    const x = xScale(v);
    const tk = mk("line", {x1:x, x2:x, y1:B, y2:B+10, stroke:"#444", "stroke-width":2.5}, xg);
    
    
    const lb = mk("text", {x:x, y:B+42, "text-anchor":"middle", "font-size":27}, xg);
    lb.textContent = String(v);
    
    
  });
  const xt = mk("text", {x:(L+R)/2, y:B+84, "text-anchor":"middle", "font-size":27}, g);
  xt.textContent = "log2 (COL1A1 TPM)";
  
  

  const yg = mk("g", {}, g);
  
  
  p.ticks.forEach(v => {
    const y = yScale(v);
    const tk = mk("line", {x1:L-12, x2:L, y1:y, y2:y, stroke:"#444", "stroke-width":2.5}, yg);
    
    
    const lb = mk("text", {x:L-21, y:y+10, "text-anchor":"end", "font-size":27}, yg);
    lb.textContent = String(v);
    
    
  });
  const cy = (T+B)/2, cx = L - p.ytOff;
  const yt = mk("text", {x:cx, y:cy, "text-anchor":"middle", "dominant-baseline":"central", "font-size":27, transform:"rotate(-90 "+cx+" "+cy+")"}, g);
  yt.textContent = "log2 (" + gene + " TPM)";
  
  

  const pg = mk("g", {fill:"#111"}, g);
  
  
  p.pts.forEach(pt => {
    const c = mk("circle", {cx:xScale(pt[0]), cy:yScale(pt[1]), r:3.4}, pg);
    
    
  });

  const a1 = mk("text", {x:R-15, y:T+32, "text-anchor":"end", "font-size":24.5}, g);
  a1.textContent = "P-value = " + panelPValues[i];
  
  
  const a2 = mk("text", {x:R-15, y:T+62, "text-anchor":"end", "font-size":24.5}, g);
  a2.textContent = "R = " + panelRValues[i];
  
  
});
</script>
</body></html>
